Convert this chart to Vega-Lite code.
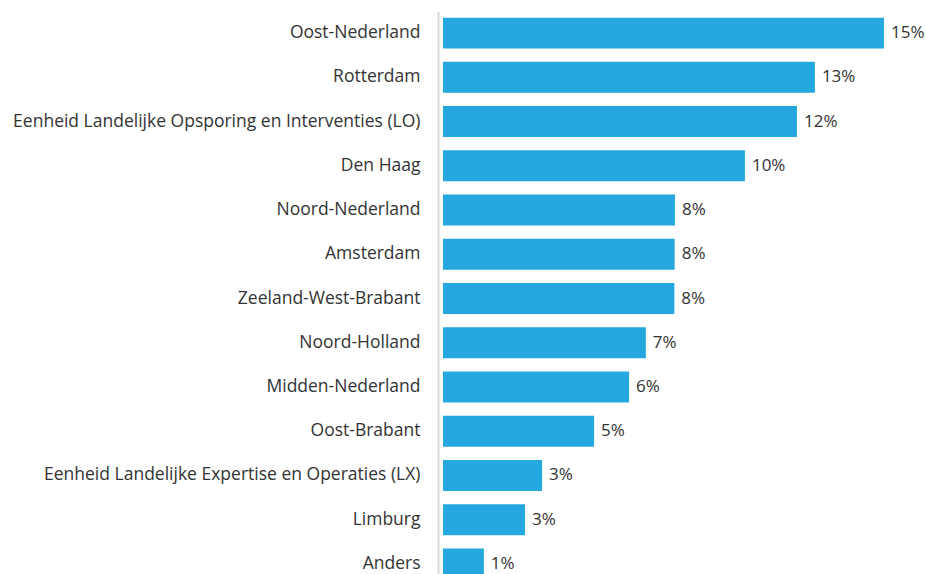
{
  "$schema": "https://vega.github.io/schema/vega-lite/v6.json",
  "width": 483,
  "height": 575,
  "autosize": {"type": "none"},
  "padding": {"left": 443, "top": 11, "right": 0, "bottom": 0},
  "background": "white",
  "config": {"view": {"stroke": null}, "font": "Open Sans"},
  "data": {
    "values": [
      {"regio": "Oost-Nederland", "aandeel": 0.150},
      {"regio": "Rotterdam", "aandeel": 0.1265},
      {"regio": "Eenheid Landelijke Opsporing en Interventies (LO)", "aandeel": 0.1204},
      {"regio": "Den Haag", "aandeel": 0.1027},
      {"regio": "Noord-Nederland", "aandeel": 0.0789},
      {"regio": "Amsterdam", "aandeel": 0.0788},
      {"regio": "Zeeland-West-Brabant", "aandeel": 0.0787},
      {"regio": "Noord-Holland", "aandeel": 0.069},
      {"regio": "Midden-Nederland", "aandeel": 0.0633},
      {"regio": "Oost-Brabant", "aandeel": 0.0514},
      {"regio": "Eenheid Landelijke Expertise en Operaties (LX)", "aandeel": 0.0337},
      {"regio": "Limburg", "aandeel": 0.0279},
      {"regio": "Anders", "aandeel": 0.0139}
    ]
  },
  "encoding": {
    "y": {
      "field": "regio", "type": "nominal", "sort": null,
      "scale": {"paddingInner": 0.3, "paddingOuter": 0.15},
      "axis": {
        "title": null, "offset": 5, "ticks": false,
        "domainColor": "#d9d9d9", "domainWidth": 2,
        "labelPadding": 18, "labelFontSize": 17.5, "labelColor": "#333333",
        "labelFont": "Open Sans", "labelLimit": 500
      }
    },
    "x": {
      "field": "aandeel", "type": "quantitative",
      "scale": {"domain": [0, 0.16429], "nice": false},
      "axis": null
    }
  },
  "layer": [
    {"mark": {"type": "bar", "color": "#24A8DF"}},
    {
      "mark": {"type": "text", "align": "left", "baseline": "middle", "dx": 7, "fontSize": 17, "color": "#333333", "font": "Open Sans"},
      "encoding": {"text": {"field": "aandeel", "type": "quantitative", "format": ".0%"}}
    }
  ]
}
